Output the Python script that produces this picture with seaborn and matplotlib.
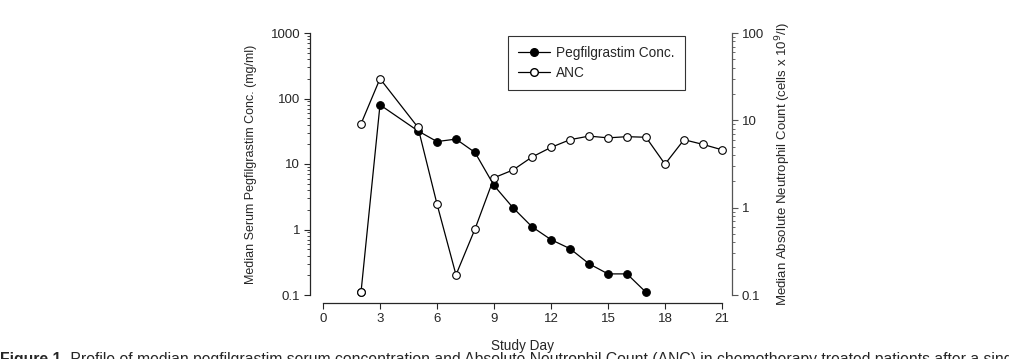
import numpy as np
import pandas as pd
import matplotlib
matplotlib.use("Agg")
import matplotlib.pyplot as plt
import seaborn as sns
from matplotlib.lines import Line2D
from matplotlib.ticker import LogLocator, NullFormatter, FixedLocator, FixedFormatter

# data
peg_day = [2, 3, 5, 6, 7, 8, 9, 10, 11, 12, 13, 14, 15, 16, 17]
peg_conc = [0.11, 80, 32, 22, 24, 15, 4.7, 2.15, 1.1, 0.7, 0.51, 0.3, 0.21, 0.21, 0.11]

anc_day = [2, 3, 5, 6, 7, 8, 9, 10, 11, 12, 13, 14, 15, 16, 17, 18, 19, 20, 21]
anc_count = [9.1, 30, 8.3, 1.1, 0.17, 0.57, 2.2, 2.7, 3.8, 4.9, 6.0, 6.6, 6.3, 6.5, 6.4, 3.15, 6.0, 5.3, 4.6]

x_ticks = [0, 3, 6, 9, 12, 15, 18, 21]
left_ticks = [0.1, 1, 10, 100, 1000]
left_labels = ["0.1", "1", "10", "100", "1000"]
right_ticks = [0.1, 1, 10, 100]
right_labels = ["0.1", "1", "10", "100"]

peg_df = pd.DataFrame({"day": peg_day, "conc": peg_conc})
anc_df = pd.DataFrame({"day": anc_day, "anc": anc_count})

sns.set_style("ticks")
plt.rcParams["font.family"] = ["Liberation Sans", "DejaVu Sans"]
plt.rcParams["font.size"] = 9

W, H = 1009, 359
fig = plt.figure(figsize=(W / 100, H / 100), dpi=100)
ax = fig.add_axes([323 / W, (H - 295) / H, 399 / W, 262 / H])
ax2 = ax.twinx()

lw = 0.9
ms = 5.5

sns.lineplot(data=peg_df, x="day", y="conc", ax=ax, color="black", lw=lw,
             marker="o", markersize=ms, markerfacecolor="black",
             markeredgecolor="black", markeredgewidth=0.8, clip_on=False, zorder=3)
# first pegfilgrastim point is drawn open in the reference
ax.plot(peg_day[:1], peg_conc[:1], ls="none", marker="o", ms=ms, mfc="white",
        mec="black", mew=0.8, clip_on=False, zorder=4)

sns.lineplot(data=anc_df, x="day", y="anc", ax=ax2, color="black", lw=lw,
             marker="o", markersize=ms, markerfacecolor="white",
             markeredgecolor="black", markeredgewidth=0.8, clip_on=False, zorder=3)

ax.set_yscale("log")
ax2.set_yscale("log")
ax.set_ylim(0.1, 1000)
ax2.set_ylim(0.1, 100)
ax.set_xlim(0, 21)

ax.xaxis.set_major_locator(FixedLocator(x_ticks))
ax.set_xticklabels([str(t) for t in x_ticks])

for a, ticks, labels in [(ax, left_ticks, left_labels), (ax2, right_ticks, right_labels)]:
    a.yaxis.set_major_locator(FixedLocator(ticks))
    a.yaxis.set_major_formatter(FixedFormatter(labels))
    a.yaxis.set_minor_locator(LogLocator(base=10, subs=np.arange(2, 10), numticks=20))
    a.yaxis.set_minor_formatter(NullFormatter())

ax.spines["top"].set_visible(False)
ax.spines["right"].set_visible(False)
ax2.spines["top"].set_visible(False)
ax2.spines["left"].set_visible(False)
ax2.spines["bottom"].set_visible(False)

ax.spines["left"].set_position(("outward", 9.4))
ax.spines["bottom"].set_position(("outward", 5.8))
ax2.spines["right"].set_position(("outward", 7.2))
ax2.spines["right"].set_color("#555555")

for sp in [ax.spines["left"], ax.spines["bottom"], ax2.spines["right"]]:
    sp.set_linewidth(0.9)

ax.tick_params(axis="both", which="major", length=4, width=0.8, direction="out", labelsize=9.5, pad=3)
ax.tick_params(axis="y", which="minor", length=2, width=0.6, direction="out")
ax2.tick_params(axis="y", which="major", length=4, width=0.8, direction="out", labelsize=9.5,
                pad=3, color="#555555")
ax2.tick_params(axis="y", which="minor", length=2, width=0.6, direction="out", color="#555555")

ax.set_xlabel("Study Day", fontsize=9.8, labelpad=10.5)
ax.set_ylabel("Median Serum Pegfilgrastim Conc. (mg/ml)", fontsize=9, labelpad=10)
ax2.set_ylabel("Median Absolute Neutrophil Count (cells x 10$^9$/l)", fontsize=9.5, labelpad=7)

handles = [
    Line2D([], [], color="black", lw=lw, marker="o", ms=ms, mfc="black", mec="black"),
    Line2D([], [], color="black", lw=lw, marker="o", ms=ms, mfc="white", mec="black"),
]
leg = ax.legend(handles, ["Pegfilgrastim Conc.", "ANC"], loc="upper left",
                bbox_to_anchor=((508 - 323) / 399, (295 - 36) / 262),
                borderaxespad=0, frameon=True, fancybox=False, edgecolor="black",
                fontsize=9.8, handlelength=2.3, borderpad=0.75, labelspacing=0.4,
                handletextpad=0.5)
leg.get_frame().set_linewidth(0.8)

# caption, partly cut off at the bottom and right edges as in the reference
t1 = fig.text(0.0, (H - 364) / H, "Figure 1.", fontsize=11.3, fontweight="bold",
              ha="left", va="baseline")
plt.annotate(" Profile of median pegfilgrastim serum concentration and Absolute Neutrophil Count (ANC) "
             "in chemotherapy treated patients after a single 6 mg injection of pegfilgrastim",
             xy=(1, 0), xycoords=t1, ha="left", va="bottom", fontsize=11.3,
             annotation_clip=False)

fig.savefig("out.png", dpi=100)
